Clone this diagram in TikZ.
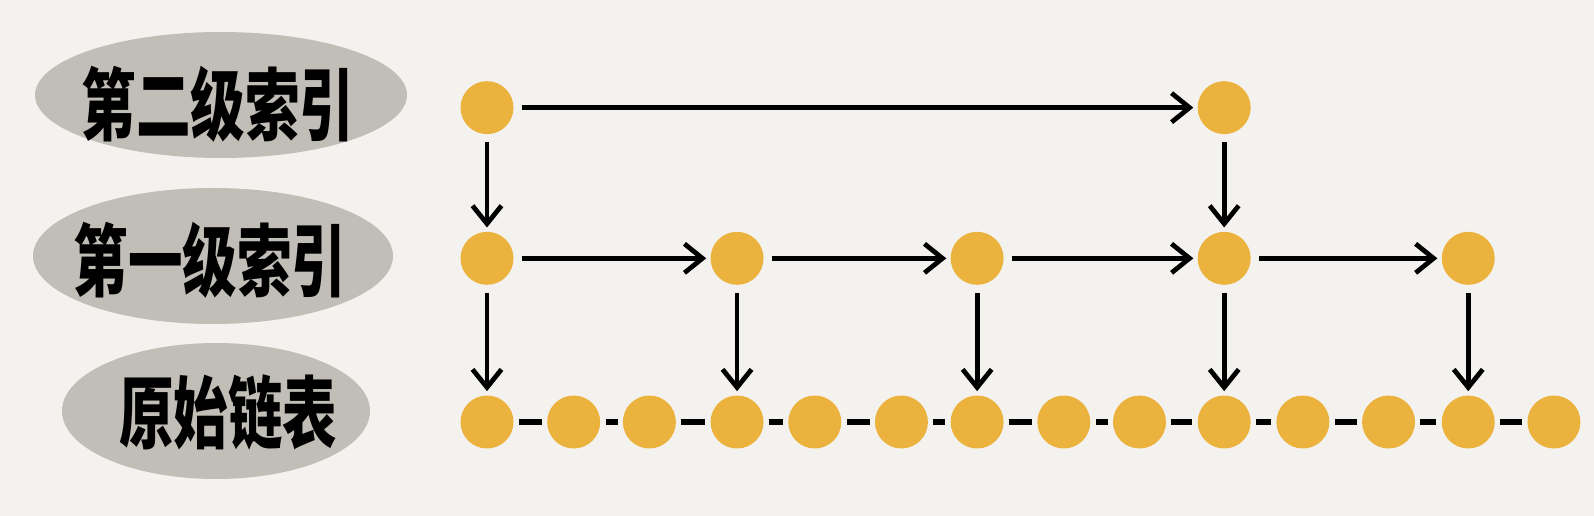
\documentclass[tikz,border=0pt]{standalone}
\usepackage{fontspec}
\newfontfamily\cjk{Noto Sans CJK SC}
\usetikzlibrary{positioning}
\usetikzlibrary{arrows.meta}
\definecolor{paper}{RGB}{244,242,238}
\definecolor{blobgray}{RGB}{193,190,183}
\definecolor{dotorange}{RGB}{236,178,62}
\tikzset{
	dot/.style={
		circle,
		fill=dotorange,
		minimum size=1.06cm,
		inner sep=0pt
	},
	level/.style={
		inner sep=0pt,
		font=\cjk\bfseries\fontsize{31}{31}\selectfont
	},
	link/.style={
		line width=3pt,
		shorten <=0.1cm,
		shorten >=0.1cm
	},
	pointer/.style={
		->,
		line width=2.7pt,
		shorten <=0.16cm,
		shorten >=0.08cm
	}
}
\newcommand{\tallword}[1]{\scalebox{1}[1.45]{#1}}

\begin{document}
\begin{tikzpicture}[x=0.02cm, y=-0.02cm, >={Straight Barb[length=3.6mm,width=5.8mm]}]
	\fill[paper] (0,0) rectangle (1594,516);
	\useasboundingbox (0,0) rectangle (1594,516);
	
	\fill[blobgray] (221,95) ellipse [x radius=186, y radius=63];
	\fill[blobgray] (213,256) ellipse [x radius=180, y radius=68];
	\fill[blobgray] (216,411) ellipse [x radius=154, y radius=68];
	\draw node[level](LevelTwo) at (218,104){\tallword{第二级索引}};
	\draw node[level](LevelOne) at (210,260){\tallword{第一级索引}};
	\draw node[level](BaseList) at (228,412){\tallword{原始链表}};
	
	\draw node[dot](b1) at (487,422){};
	\draw node[dot, right=0.66cm of b1](b2){};
	\draw node[dot, right=0.44cm of b2](b3){};
	\draw node[dot, right=0.68cm of b3](b4){};
	\draw node[dot, right=0.48cm of b4](b5){};
	\draw node[dot, right=0.66cm of b5](b6){};
	\draw node[dot, right=0.44cm of b6](b7){};
	\draw node[dot, right=0.66cm of b7](b8){};
	\draw node[dot, right=0.44cm of b8](b9){};
	\draw node[dot, right=0.62cm of b9](b10){};
	\draw node[dot, right=0.50cm of b10](b11){};
	\draw node[dot, right=0.64cm of b11](b12){};
	\draw node[dot, right=0.52cm of b12](b13){};
	\draw node[dot, right=0.64cm of b13](b14){};
	
	\draw node[dot, above=2.2cm of b1](m1){};
	\draw node[dot, above=2.2cm of b4](m2){};
	\draw node[dot, above=2.2cm of b7](m3){};
	\draw node[dot, above=2.2cm of b10](m4){};
	\draw node[dot, above=2.2cm of b13](m5){};
	
	\draw node[dot, above=1.94cm of m1](t1){};
	\draw node[dot, above=1.94cm of m4](t2){};
	
	\draw [pointer] (t1) -- (t2);
	\draw [pointer] (t1) -- (m1);
	\draw [pointer] (t2) -- (m4);
	
	\draw [pointer] (m1) -- (m2);
	\draw [pointer] (m2) -- (m3);
	\draw [pointer] (m3) -- (m4);
	\draw [pointer] (m4) -- (m5);
	
	\draw [pointer] (m1) -- (b1);
	\draw [pointer] (m2) -- (b4);
	\draw [pointer] (m3) -- (b7);
	\draw [pointer] (m4) -- (b10);
	\draw [pointer] (m5) -- (b13);
	
	\draw [link] (b1) -- (b2);
	\draw [link] (b2) -- (b3);
	\draw [link] (b3) -- (b4);
	\draw [link] (b4) -- (b5);
	\draw [link] (b5) -- (b6);
	\draw [link] (b6) -- (b7);
	\draw [link] (b7) -- (b8);
	\draw [link] (b8) -- (b9);
	\draw [link] (b9) -- (b10);
	\draw [link] (b10) -- (b11);
	\draw [link] (b11) -- (b12);
	\draw [link] (b12) -- (b13);
	\draw [link] (b13) -- (b14);
\end{tikzpicture}
\end{document}
